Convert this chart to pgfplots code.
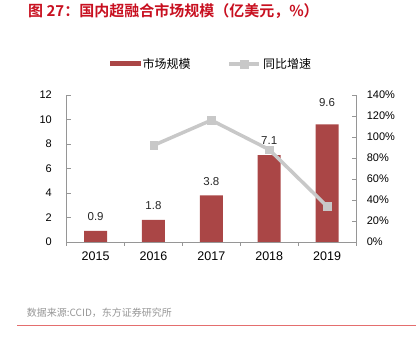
\documentclass[border=0pt]{standalone}
\usepackage{pgfplots}
\usepackage{pgfplotstable}
\pgfplotsset{compat=1.18}
\usepackage{fontspec}
\setmainfont{Liberation Sans}
\newfontfamily\cjk{Noto Sans CJK SC}[BoldFont={Noto Sans CJK SC Bold}]
\definecolor{barred}{RGB}{170,70,70}
\definecolor{linegray}{RGB}{200,200,200}
\definecolor{axisgray}{RGB}{150,150,150}
\definecolor{titlered}{RGB}{200,16,32}
\definecolor{srcgray}{RGB}{150,150,150}
\definecolor{rulered}{RGB}{228,110,110}

\pgfplotstableread{
x y off
0 0.9 14
1 1.8 14
2 3.8 14
3 7.1 14
4 9.6 22
}\sizedata
\pgfplotstableread{
x g
1 92
2 116
3 88
4 34
}\growthdata

\pgfplotsset{
  barleg/.style={legend image code/.code={\fill[barred] (0pt,-2.5pt) rectangle (31pt,2.5pt);}},
  lineleg/.style={legend image code/.code={\draw[linegray, line width=3.5pt] (0pt,0pt) -- (30pt,0pt); \fill[linegray] (11pt,-4pt) rectangle (19pt,4pt);}},
}

\begin{document}
\begin{tikzpicture}
\path[use as bounding box] (0pt,0pt) rectangle (416pt,350pt);
\node[anchor=west, inner sep=0pt, text=titlered, font=\cjk\bfseries\fontsize{15}{18}\selectfont] at (28pt,338.7pt) {图 27：国内超融合市场规模（亿美元，\%）};
\node[anchor=west, inner sep=0pt, text=srcgray, font=\cjk\fontsize{10}{12}\selectfont] at (26.7pt,37pt) {数据来源:CCID，东方证券研究所};
\draw[rulered, line width=1.2pt] (17pt,24.3pt) -- (416pt,24.3pt);

\begin{axis}[
  at={(66.7pt,108pt)}, anchor=south west,
  scale only axis, width=289.3pt, height=147pt,
  xmin=-0.5, xmax=4.5, ymin=0, ymax=12,
  ybar, bar width=23pt,
  axis y line*=left, axis x line*=bottom,
  axis line style={axisgray, line width=0.8pt},
  tick style={axisgray, line width=0.8pt},
  major tick length=4pt,
  xtick align=outside, ytick align=inside,
  xtick={-0.5,0.5,...,4.5},
  x tick label as interval,
  xticklabels={2015,2016,2017,2018,2019},
  x tick label style={font=\fontsize{12.5}{15}\selectfont, yshift=-2pt},
  ytick={0,2,...,12},
  y tick label style={font=\fontsize{11}{13}\selectfont, xshift=-11.3pt},
  /pgf/number format/assume math mode=true,
  /pgf/number format/fixed, /pgf/number format/precision=1,
  legend style={at={(0.5,1.211)}, anchor=center, draw=none, fill=none,
    legend columns=2, font=\cjk\fontsize{12}{14}\selectfont,
    /tikz/every even column/.append style={column sep=35pt}},
  legend cell align=left,
  clip=false,
]
\addplot[fill=barred, draw=none, barleg,
  nodes near coords,
  visualization depends on={\thisrow{off} \as \myoff},
  every node near coord/.append style={anchor=center, yshift=\myoff pt, font=\fontsize{11.5}{13}\selectfont, text=black!85},
] table[x=x,y=y] {\sizedata};
\addlegendentry{市场规模}
\addlegendimage{lineleg}
\addlegendentry{同比增速}
\end{axis}

\begin{axis}[
  at={(66.7pt,108pt)}, anchor=south west,
  scale only axis, width=289.3pt, height=147pt,
  xmin=-0.5, xmax=4.5, ymin=0, ymax=140,
  axis y line*=right, axis x line=none,
  axis line style={axisgray, line width=0.8pt},
  tick style={axisgray, line width=0.8pt},
  major tick length=4pt, tick align=inside,
  ytick={0,20,...,140},
  yticklabel={\pgfmathprintnumber{\tick}\%},
  y tick label style={font=\fontsize{11}{13}\selectfont, xshift=7.3pt},
  /pgf/number format/assume math mode=true,
  clip=false,
]
\addplot[color=linegray, line width=3.5pt, mark=square*, mark size=3.8pt,
  mark options={solid, fill=linegray, draw=linegray, line width=0.3pt}]
  table[x=x,y=g] {\growthdata};
\end{axis}
\end{tikzpicture}
\end{document}
